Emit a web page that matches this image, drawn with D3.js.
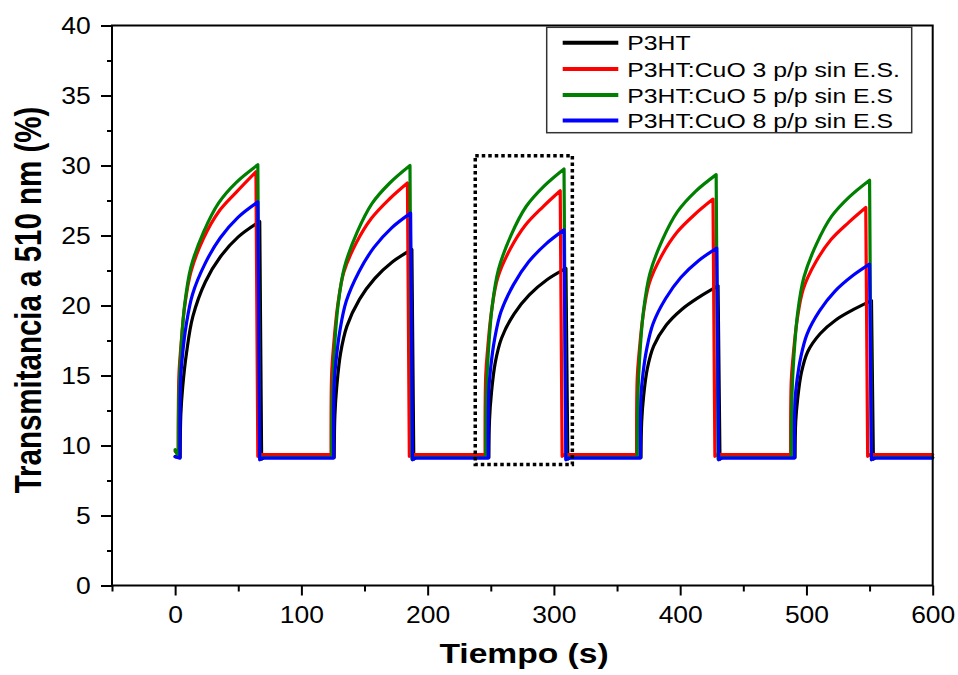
<!DOCTYPE html>
<html>
<head>
<meta charset="utf-8">
<script src="https://cdn.jsdelivr.net/npm/d3@7"></script>
<style>
  html, body { margin: 0; padding: 0; background: #fff; }
  svg { display: block; font-family: Arial, "Liberation Sans", sans-serif; }
</style>
</head>
<body>
<svg id="chart" width="958" height="675"></svg>
<script>
// ---------------- DATA ----------------
const seriesNames = ["P3HT", "P3HT:CuO 3 p/p sin E.S.", "P3HT:CuO 5 p/p sin E.S", "P3HT:CuO 8 p/p sin E.S"];
const xTicks = [0, 100, 200, 300, 400, 500, 600];
const xMinorTicks = [-50, 50, 150, 250, 350, 450, 550];
const yTicks = [0, 5, 10, 15, 20, 25, 30, 35, 40];
const yMinorTicks = [2.5, 7.5, 12.5, 17.5, 22.5, 27.5, 32.5, 37.5];

// seconds after light on at which the rise values below were read
const riseOffsets = [0.5, 2, 5, 10, 20, 32, 46];

// P3HT
const p3htStart = 9.2;
const p3htBase = 9.15;
const p3htOn = [4, 126, 248.5, 369, 491];
const p3htOff = [67, 187.5, 309.5, 430, 551.5];
const p3htPeak = [26.0, 24.0, 22.65, 21.4, 20.35];
const p3htRise = [
  [12.2, 14.2, 16.6, 19.2, 21.7, 23.5, 24.9],
  [12.12, 14.2, 16.58, 18.51, 20.44, 21.92, 23.11],
  [11.85, 13.74, 15.9, 17.66, 19.41, 20.76, 21.84],
  [11.7, 13.5, 15.5, 17.1, 18.6, 19.7, 20.6],
  [11.7, 13.3, 15.2, 16.7, 18.0, 18.95, 19.7]
];

// P3HT:CuO 3
const cuo3Start = 9.6;
const cuo3Base = 9.35;
const cuo3On = [2.5, 123.5, 245.5, 365.5, 487.5];
const cuo3Off = [64, 184, 305, 426, 547];
const cuo3Peak = [29.55, 28.75, 28.2, 27.6, 27.0];
const cuo3Rise = [
  [15.0, 17.0, 19.9, 22.4, 24.8, 26.7, 28.1],
  [15.17, 17.11, 19.83, 22.35, 24.48, 26.23, 27.59],
  [15.01, 16.89, 19.53, 21.98, 24.05, 25.75, 27.07],
  [14.83, 16.65, 19.2, 21.58, 23.59, 25.23, 26.5],
  [14.65, 16.41, 18.88, 21.18, 23.12, 24.71, 25.94]
];

// P3HT:CuO 5
const cuo5Start = 9.7;
const cuo5Base = 9.15;
const cuo5On = [2.5, 124, 246, 366, 488];
const cuo5Off = [65.5, 186, 308, 428.5, 550];
const cuo5Peak = [30.05, 30.0, 29.75, 29.35, 28.95];
const cuo5Rise = [
  [13.75, 16.67, 20.02, 22.74, 25.24, 27.33, 28.8],
  [13.74, 16.66, 19.99, 22.7, 25.2, 27.29, 28.75],
  [13.68, 16.57, 19.86, 22.54, 25.01, 27.07, 28.51],
  [13.59, 16.42, 19.65, 22.28, 24.7, 26.72, 28.14],
  [13.51, 16.28, 19.45, 22.02, 24.4, 26.38, 27.76]
];

// P3HT:CuO 8
const cuo8Start = 9.2;
const cuo8Base = 9.1;
const cuo8On = [3.8, 125.5, 248, 368.5, 490.5];
const cuo8Off = [65.5, 186.5, 308, 429, 550];
const cuo8Peak = [27.4, 26.6, 25.4, 24.1, 22.95];
const cuo8Rise = [
  [14.59, 16.42, 18.62, 20.81, 23.01, 24.84, 26.3],
  [14.35, 16.1, 18.2, 20.3, 22.4, 24.15, 25.55],
  [13.99, 15.62, 17.58, 19.53, 21.49, 23.12, 24.42],
  [13.6, 15.1, 16.9, 18.7, 20.5, 22.0, 23.2],
  [13.26, 14.64, 16.3, 17.96, 19.63, 21.01, 22.12]
];

// highlighted cycle (dotted box), in data units
const boxTime = [237.7, 314.6];
const boxValue = [8.64, 30.7];

const tEnd = 600;

// ---------------- STYLE ----------------
const colors = ["#000000", "#ff0000", "#008000", "#0000ff"];

const series = [
  {name: seriesNames[0], color: colors[0], start: p3htStart, base: p3htBase, on: p3htOn, off: p3htOff, peak: p3htPeak, rise: p3htRise},
  {name: seriesNames[1], color: colors[1], start: cuo3Start, base: cuo3Base, on: cuo3On, off: cuo3Off, peak: cuo3Peak, rise: cuo3Rise},
  {name: seriesNames[2], color: colors[2], start: cuo5Start, base: cuo5Base, on: cuo5On, off: cuo5Off, peak: cuo5Peak, rise: cuo5Rise},
  {name: seriesNames[3], color: colors[3], start: cuo8Start, base: cuo8Base, on: cuo8On, off: cuo8Off, peak: cuo8Peak, rise: cuo8Rise}
];

const svg = d3.select("#chart");
const L = 112, R = 932.7, T = 25.5, B = 585.5;
const x = d3.scaleLinear().domain([-50, 600]).range([L, R]);
const y = d3.scaleLinear().domain([0, 40]).range([B, T]);

// ---------------- LINES ----------------
const lin = d3.line().x(d => x(d[0])).y(d => y(d[1]));
const smooth = d3.line().x(d => x(d[0])).y(d => y(d[1])).curve(d3.curveCatmullRom.alpha(0.5));

function buildPath(s) {
  let d = lin([[0, s.start], [s.on[0], s.base]]);
  s.on.forEach((on, i) => {
    const rise = [[on, s.base]].concat(riseOffsets.map((o, j) => [on + o, s.rise[i][j]]));
    rise.push([s.off[i], s.peak[i]]);
    d += smooth(rise).replace(/^M/, "L");
    const next = i < s.on.length - 1 ? s.on[i + 1] : tEnd;
    const drop = [[s.off[i], s.peak[i]], [s.off[i] + 1.5, s.base - 0.12], [s.off[i] + 3.5, s.base], [next, s.base]];
    d += lin(drop).replace(/^M/, "L");
  });
  return d;
}

const lineG = svg.append("g");
series.forEach(s => {
  lineG.append("path")
    .attr("d", buildPath(s))
    .attr("fill", "none")
    .attr("stroke", s.color)
    .attr("stroke-width", 3.2)
    .attr("stroke-linejoin", "round")
    .attr("stroke-linecap", "round");
});

// dotted box
svg.append("rect")
  .attr("x", x(boxTime[0]))
  .attr("y", y(boxValue[1]))
  .attr("width", x(boxTime[1]) - x(boxTime[0]))
  .attr("height", y(boxValue[0]) - y(boxValue[1]))
  .attr("fill", "none")
  .attr("stroke", "#000")
  .attr("stroke-width", 3.5)
  .attr("stroke-dasharray", "3.5,3");

// ---------------- AXES ----------------
svg.append("rect")
  .attr("x", L).attr("y", T).attr("width", R - L).attr("height", B - T)
  .attr("fill", "none").attr("stroke", "#000").attr("stroke-width", 2);

const xAxis = svg.append("g").attr("transform", `translate(0,${B})`)
  .call(d3.axisBottom(x).tickValues(xTicks).tickSize(10).tickFormat(d3.format("d")));
const xMinor = svg.append("g").attr("transform", `translate(0,${B})`)
  .call(d3.axisBottom(x).tickValues(xMinorTicks).tickSize(6).tickFormat(""));
const yAxis = svg.append("g").attr("transform", `translate(${L},0)`)
  .call(d3.axisLeft(y).tickValues(yTicks).tickSize(11).tickFormat(d3.format("d")));
const yMinor = svg.append("g").attr("transform", `translate(${L},0)`)
  .call(d3.axisLeft(y).tickValues(yMinorTicks).tickSize(5).tickFormat(""));

[xAxis, xMinor, yAxis, yMinor].forEach(g => {
  g.select(".domain").remove();
  g.selectAll(".tick line").attr("stroke", "#000").attr("stroke-width", 2);
});

xAxis.selectAll(".tick text")
  .attr("y", 37.5).attr("dy", 0)
  .attr("font-size", 23).attr("fill", "#000")
  .attr("font-family", "Arial, 'Liberation Sans', sans-serif")
  .attr("transform", "scale(1.15,1)");

yAxis.selectAll(".tick text")
  .attr("x", -18.5).attr("dy", "0.33em")
  .attr("font-size", 23).attr("fill", "#000")
  .attr("font-family", "Arial, 'Liberation Sans', sans-serif")
  .attr("transform", "scale(1.15,1)");

// axis titles
svg.append("text")
  .attr("transform", "translate(524,663) scale(1.2,1)")
  .attr("text-anchor", "middle")
  .attr("font-weight", "bold")
  .attr("font-size", 28)
  .text("Tiempo (s)");

svg.append("text")
  .attr("transform", "translate(41,300) scale(1.25,1) rotate(-90)")
  .attr("text-anchor", "middle")
  .attr("font-weight", "bold")
  .attr("font-size", 29.5)
  .text("Transmitancia a 510 nm (%)");

// ---------------- LEGEND ----------------
const legX = 546.7, legY = 27.3, legW = 365, legH = 105.4;
const leg = svg.append("g");
leg.append("rect")
  .attr("x", legX).attr("y", legY).attr("width", legW).attr("height", legH)
  .attr("fill", "#fff").attr("stroke", "#333").attr("stroke-width", 1.5);
const rowY = [42.7, 69, 95, 120.5];
series.forEach((s, i) => {
  leg.append("line")
    .attr("x1", 562.7).attr("x2", 618.3)
    .attr("y1", rowY[i]).attr("y2", rowY[i])
    .attr("stroke", s.color).attr("stroke-width", 4);
  leg.append("text")
    .attr("transform", `translate(627.3,${rowY[i] + 7.5}) scale(1.18,1)`)
    .attr("font-size", 21)
    .attr("fill", "#000")
    .text(s.name);
});
</script>
</body>
</html>
